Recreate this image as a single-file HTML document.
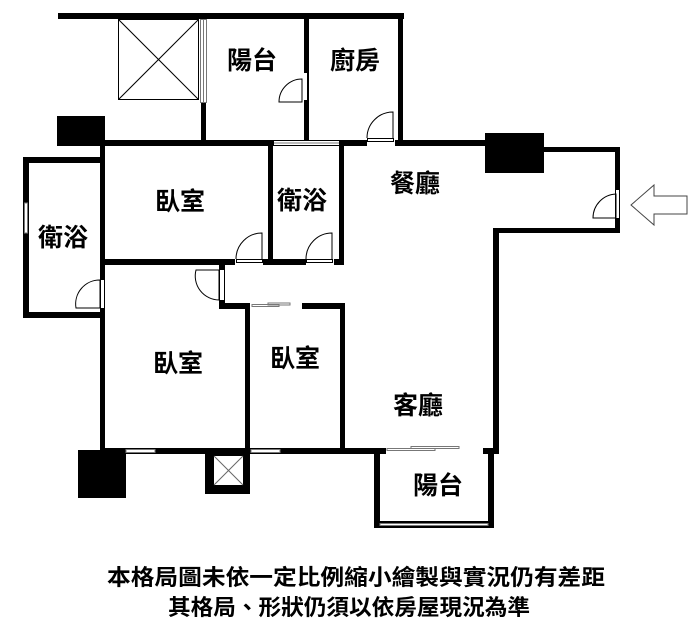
<!DOCTYPE html>
<html><head><meta charset="utf-8"><style>
html,body{margin:0;padding:0;background:#fff;}
svg{display:block;}
text{font-family:"Liberation Sans","Noto Sans CJK TC",sans-serif;font-weight:bold;fill:#000;}
</style></head><body>
<svg width="699" height="629" viewBox="0 0 699 629" xmlns="http://www.w3.org/2000/svg">
<g fill="#000">
<rect x="58" y="13" width="346" height="6"/>
<rect x="304" y="13" width="5" height="131"/>
<rect x="398" y="13" width="5" height="131"/>
<rect x="201" y="103" width="5" height="40"/>
<rect x="57" y="116" width="48" height="30"/>
<rect x="485" y="133" width="59" height="40"/>
<rect x="78" y="450" width="48" height="48"/>
<rect x="104" y="140" width="381" height="6"/>
<rect x="544" y="147" width="76" height="5"/>
<rect x="615" y="147" width="5" height="86"/>
<rect x="493" y="228" width="127" height="5"/>
<rect x="493" y="228" width="6" height="226"/>
<rect x="23" y="157" width="82" height="6"/>
<rect x="23" y="157" width="6" height="161"/>
<rect x="23" y="312" width="82" height="6"/>
<rect x="100" y="143" width="5" height="311"/>
<rect x="268" y="143" width="5" height="121"/>
<rect x="339" y="143" width="5" height="121"/>
<rect x="104" y="259" width="240" height="6"/>
<rect x="219" y="259" width="6" height="50"/>
<rect x="219" y="303" width="31" height="6"/>
<rect x="245" y="303" width="5" height="151"/>
<rect x="302" y="303" width="43" height="6"/>
<rect x="340" y="303" width="5" height="151"/>
<rect x="100" y="448" width="286" height="6"/>
<rect x="483" y="448" width="16" height="6"/>
<rect x="374" y="453" width="6" height="75"/>
<rect x="488" y="453" width="6" height="75"/>
<rect x="374" y="521" width="120" height="7"/>
<rect x="205" y="453" width="45" height="41"/>
</g>
<g fill="#fff">
<rect x="274" y="141" width="65" height="4"/>
<rect x="200" y="19" width="7" height="84"/>
<rect x="302" y="73" width="5" height="27"/>
<rect x="367" y="138" width="28" height="8"/>
<rect x="616" y="190" width="3" height="28"/>
<rect x="235" y="259" width="28" height="6"/>
<rect x="306" y="259" width="28" height="6"/>
<rect x="101" y="280" width="3" height="28"/>
<rect x="24" y="203" width="4" height="30"/>
<rect x="220" y="270" width="4" height="30"/>
<rect x="250" y="302" width="52" height="8"/>
<rect x="126" y="449" width="29" height="4"/>
<rect x="251" y="449" width="29" height="4"/>
<rect x="386" y="447" width="97" height="8"/>
<rect x="380" y="523" width="108" height="3"/>
<rect x="214" y="456" width="29" height="29"/>
</g>
<g fill="none" stroke="#777" stroke-width="1">
<rect x="200.5" y="19.5" width="6" height="83"/>
<line x1="203.5" y1="19" x2="203.5" y2="103"/>
<line x1="274" y1="143" x2="339" y2="143"/>
<rect x="126" y="449.5" width="29" height="3"/>
<rect x="251" y="449.5" width="29" height="3"/>
<rect x="24.5" y="203" width="3" height="30"/>
<rect x="387" y="448.5" width="48" height="2"/>
<rect x="411" y="446.5" width="48" height="2"/>
<rect x="252" y="304.5" width="27" height="2"/>
<rect x="268" y="303" width="22" height="2"/>
<rect x="380" y="523.5" width="108" height="2"/>
</g>
<g fill="none" stroke="#000" stroke-width="1">
<rect x="118.5" y="19.5" width="80" height="80"/>
<line x1="118.5" y1="19.5" x2="198.5" y2="99.5"/>
<line x1="198.5" y1="19.5" x2="118.5" y2="99.5"/>
<line x1="214" y1="456" x2="243" y2="485" stroke="#666"/>
<line x1="243" y1="456" x2="214" y2="485" stroke="#666"/>
<path d="M279 102 A23 23 0 0 1 302 79 L302 102 Z"/>
<path d="M367 138 A26 26 0 0 1 393 112 L393 138"/>
<rect x="367.5" y="138.5" width="26" height="3"/>
<path d="M593 218 A24 24 0 0 1 616 194 L616 218 Z"/>
<path d="M236 259 A26 26 0 0 1 262 233 L262 259"/>
<rect x="236.5" y="259.5" width="26" height="3"/>
<path d="M306 259 A26 26 0 0 1 332 233 L332 259"/>
<rect x="306.5" y="259.5" width="26" height="3"/>
<path d="M76 308 A24 24 0 0 1 100 280 L100 308 Z"/>
<path d="M196 270 A24 24 0 0 0 219 300 L219 270 Z"/>
<path d="M631 205 L654 185 L654 196 L687 196 L687 214 L654 214 L654 225 Z" stroke="#444"/>
</g>
<g font-size="25">
<text x="252" y="69" text-anchor="middle">陽台</text>
<text x="355" y="69" text-anchor="middle">廚房</text>
<text x="180" y="210" text-anchor="middle">臥室</text>
<text x="302" y="209" text-anchor="middle">衛浴</text>
<text x="63" y="246" text-anchor="middle">衛浴</text>
<text x="415" y="192" text-anchor="middle">餐廳</text>
<text x="178" y="372" text-anchor="middle">臥室</text>
<text x="295" y="367" text-anchor="middle">臥室</text>
<text x="418" y="414" text-anchor="middle">客廳</text>
<text x="438" y="494" text-anchor="middle">陽台</text>
</g>
<g font-size="22">
<text x="107" y="585" textLength="498" lengthAdjust="spacingAndGlyphs">本格局圖未依一定比例縮小繪製與實況仍有差距</text>
<text x="168" y="615" textLength="362" lengthAdjust="spacingAndGlyphs">其格局、形狀仍須以依房屋現況為準</text>
</g>
</svg>
</body></html>
